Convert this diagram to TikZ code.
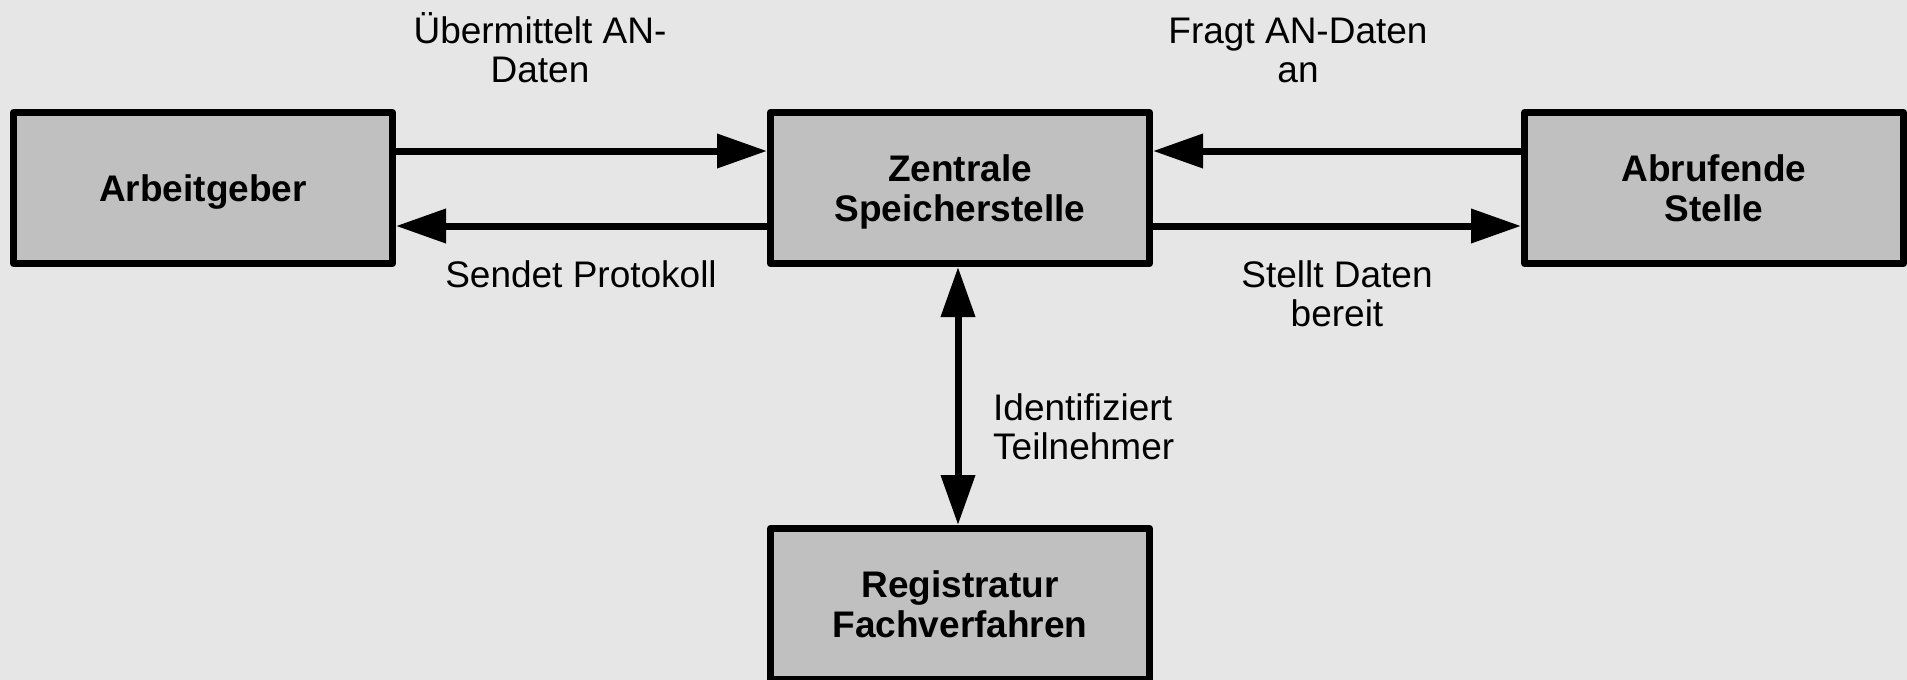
\documentclass[tikz,border=0pt]{standalone}
\usepackage{fontspec}
\setmainfont{Liberation Sans}
\usetikzlibrary{arrows.meta}
\definecolor{bgcol}{HTML}{E6E6E6}
\definecolor{boxcol}{HTML}{C0C0C0}
\begin{document}
\begin{tikzpicture}[x=1pt,y=-1pt,
  unit/.style={draw=black, fill=boxcol, line width=7pt, line join=round,
    minimum width=379pt, minimum height=151pt, align=center, text depth=0pt,
    font=\fontsize{37}{39.5}\selectfont\bfseries},
  lbl/.style={align=center, inner sep=0pt, font=\fontsize{37}{38.5}\selectfont},
  flow/.style={line width=7pt, -{Triangle[length=50pt,width=33pt]}},
  biflow/.style={line width=7pt, {Triangle[length=50pt,width=33pt]}-{Triangle[length=50pt,width=33pt]}}]
  \useasboundingbox (0,0) rectangle (1907,680);
  \fill[bgcol] (0,0) rectangle (1907,680);

  % the four units
  \node[unit] (ag) at (203,188) {Arbeitgeber};
  \node[unit] (zs) at (960,188) {Zentrale\\Speicherstelle};
  \node[unit] (as) at (1714,188) {Abrufende\\Stelle};
  \node[unit] (rf) at (960,604) {Registratur\\Fachverfahren};

  % data flows between the units
  \draw[flow] (ag.east |- 0,151) -- (zs.west |- 0,151);
  \draw[flow] (zs.west |- 0,226) -- (ag.east |- 0,226);
  \draw[flow] (as.west |- 0,151) -- (zs.east |- 0,151);
  \draw[flow] (zs.east |- 0,226) -- (as.west |- 0,226);
  \draw[biflow] (zs.south -| 958,0) -- (rf.north -| 958,0);

  % flow labels (base anchor sits on the last line)
  \node[lbl, anchor=base] (l1) at (540,82) {Übermittelt AN-\\Daten};
  \node[lbl, anchor=base] (l2) at (581,287) {Sendet Protokoll};
  \node[lbl, anchor=base] (l3) at (1298,82) {Fragt AN-Daten\\an};
  \node[lbl, anchor=base] (l4) at (1337,326) {Stellt Daten\\bereit};
  \node[lbl, anchor=base west, align=left] (l5) at (993,459) {Identifiziert\\Teilnehmer};
\end{tikzpicture}
\end{document}
